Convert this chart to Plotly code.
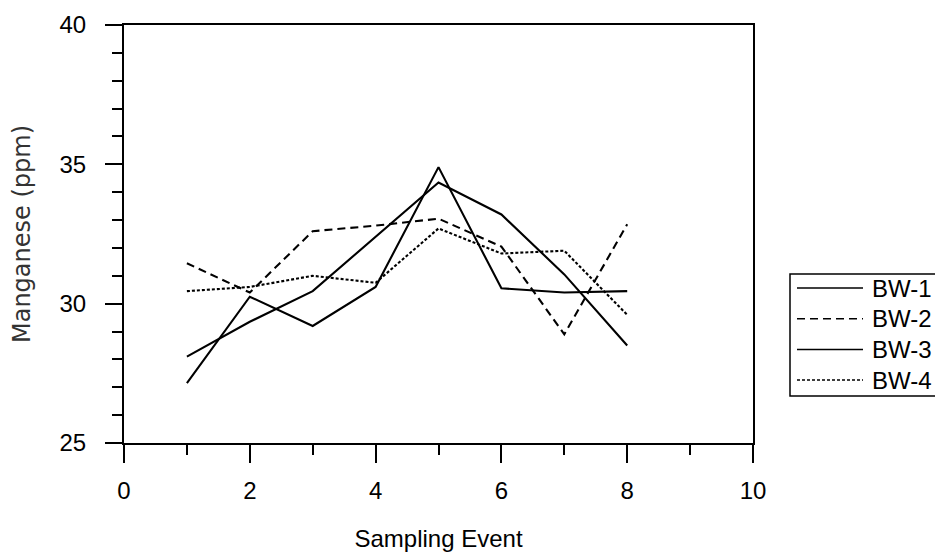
import plotly.graph_objects as go

# ---- data ----
events = [1, 2, 3, 4, 5, 6, 7, 8]
series_names = ["BW-1", "BW-2", "BW-3", "BW-4"]
bw1 = [27.15, 30.25, 29.2, 30.6, 34.9, 30.55, 30.4, 30.45]
bw2 = [31.45, 30.4, 32.6, 32.8, 33.05, 32.05, 28.9, 32.85]
bw3 = [28.1, 29.35, 30.45, 32.4, 34.35, 33.2, 31.05, 28.5]
bw4 = [30.45, 30.6, 31.0, 30.75, 32.7, 31.8, 31.9, 29.6]
x_ticks = [0, 2, 4, 6, 8, 10]
y_ticks = [25, 30, 35, 40]

values = [bw1, bw2, bw3, bw4]
dashes = ["solid", "8px,5px", "solid", "3px,2px"]

# page body has an 8px margin; positions below are in figure pixels
W, H = 943, 553
OFF = 8
L, T = 124 - OFF, 25 - OFF
R = W - (753 - OFF)
B = H - (443 - OFF)

fig = go.Figure()
for name, vals, d in zip(series_names, values, dashes):
    fig.add_trace(go.Scatter(x=events, y=vals, mode="lines", name=name,
                             line=dict(color="black", width=2.1, dash=d),
                             showlegend=False))

sans = "Liberation Sans, Arial, Helvetica, sans-serif"
tickfont = dict(family=sans, size=24, color="black")

fig.update_layout(
    width=W, height=H,
    margin=dict(l=L, r=R, t=T, b=B, autoexpand=False),
    paper_bgcolor="white", plot_bgcolor="white",
    xaxis=dict(range=[0, 10], tickvals=x_ticks, showgrid=False, zeroline=False,
               showline=True, linecolor="black", linewidth=2, mirror=True,
               ticks="outside", ticklen=18, tickwidth=2, tickcolor="black",
               ticklabelstandoff=7, tickfont=tickfont,
               minor=dict(dtick=1, ticks="outside", ticklen=10, tickwidth=2, tickcolor="black", showgrid=False),
               title=dict(text="Sampling Event", standoff=27,
                          font=dict(family=sans, size=24, color="black")),
               automargin=False),
    yaxis=dict(range=[25, 40], tickvals=y_ticks, showgrid=False, zeroline=False,
               showline=True, linecolor="black", linewidth=2, mirror=True,
               ticks="outside", ticklen=17, tickwidth=2, tickcolor="black",
               ticklabelstandoff=14, tickfont=tickfont,
               minor=dict(dtick=1, ticks="outside", ticklen=10, tickwidth=2, tickcolor="black", showgrid=False),
               title=dict(text="Manganese (ppm)", standoff=22,
                          font=dict(family="DejaVu Sans, sans-serif", size=24, color="#333")),
               automargin=False),
)

# ---- custom legend (long line samples) ----
pw = W - L - R
ph = H - T - B
def px(xs):
    return (xs - OFF - L) / pw
def py(ys):
    return (H - B - (ys - OFF)) / ph

fig.add_shape(type="rect", xref="paper", yref="paper",
              x0=px(790), x1=px(941), y0=py(396), y1=py(274),
              line=dict(color="black", width=1.5), fillcolor="white", layer="above")
row0, gap = 288, 30.7
for i, (name, d) in enumerate(zip(series_names, dashes)):
    yy = row0 + i * gap
    fig.add_shape(type="line", xref="paper", yref="paper",
                  x0=px(797), x1=px(863), y0=py(yy), y1=py(yy),
                  line=dict(color="black", width=1.5, dash=d))
    fig.add_annotation(xref="paper", yref="paper", x=px(870), y=py(yy),
                       text=name, showarrow=False, xanchor="left", yanchor="middle",
                       font=dict(family=sans, size=24, color="black"))

fig.write_html("out.html")
